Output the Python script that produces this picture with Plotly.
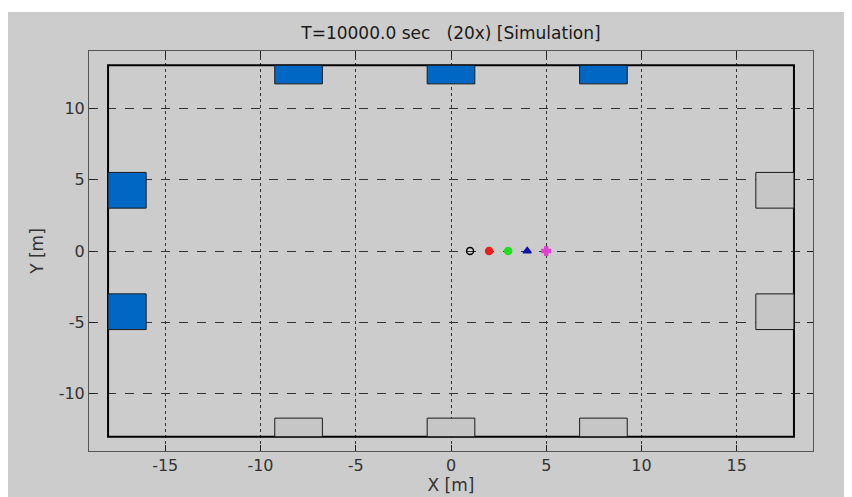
import plotly.graph_objects as go

# --- data ---
title_text = "T=10000.0 sec   (20x) [Simulation]"
x_ticks = [-15, -10, -5, 0, 5, 10, 15]
x_tick_labels = ["-15", "-10", "-5", "0", "5", "10", "15"]
y_ticks = [-10, -5, 0, 5, 10]
y_tick_labels = ["-10", "-5", "0", "5", "10"]
x_range = [-19, 19]
y_range = [-14, 14]

room_x = [-18, 18]
room_y = [-13, 13]

# blue boxes (x0, x1, y0, y1)
blue_x0 = [-9.25, -1.25, 6.75, -18, -18]
blue_x1 = [-6.75, 1.25, 9.25, -16, -16]
blue_y0 = [11.7, 11.7, 11.7, 3.0, -5.5]
blue_y1 = [13, 13, 13, 5.5, -3.0]

# gray boxes
gray_x0 = [-9.25, -1.25, 6.75, 16, 16]
gray_x1 = [-6.75, 1.25, 9.25, 18, 18]
gray_y0 = [-13, -13, -13, 3.0, -5.5]
gray_y1 = [-11.7, -11.7, -11.7, 5.5, -3.0]

robot_x = [1, 2, 3, 4, 5]
robot_y = [0, 0, 0, 0, 0]
robot_colors = ["#000000", "#e8201c", "#20e020", "#1010b0", "#e040d0"]
robot_symbols = ["circle-open", "circle", "circle", "triangle-up", "cross"]

BLUE = "#0068c4"
GRAY = "#c6c6c6"
FIG_BG = "#cccccc"
FONT = "DejaVu Sans, Arial, sans-serif"

# figure geometry (page has an 8px body margin)
W, H = 844, 489
ML, MR, MT, MB = 81, 39, 43, 46
PW, PH = W - ML - MR, H - MT - MB

fig = go.Figure()

# gray boxes as filled traces (drawn through the axes)
for x0, x1, y0, y1 in zip(gray_x0, gray_x1, gray_y0, gray_y1):
    fig.add_trace(go.Scatter(
        x=[x0, x1, x1, x0, x0], y=[y0, y0, y1, y1, y0], mode="lines",
        fill="toself", fillcolor=GRAY, line=dict(color="#1a1a1a", width=1),
        showlegend=False, hoverinfo="skip"))
for x0, x1, y0, y1 in zip(blue_x0, blue_x1, blue_y0, blue_y1):
    fig.add_trace(go.Scatter(
        x=[x0, x1, x1, x0, x0], y=[y0, y0, y1, y1, y0], mode="lines",
        fill="toself", fillcolor=BLUE, line=dict(color="#1a1a1a", width=1),
        showlegend=False, hoverinfo="skip"))

fig.add_trace(go.Scatter(
    x=robot_x, y=robot_y, mode="markers",
    marker=dict(color=robot_colors, symbol=robot_symbols, size=7,
                line=dict(color=robot_colors, width=1.5)),
    showlegend=False, hoverinfo="skip"))

shapes = []
# figure gray background (screenshot frame)
shapes.append(dict(type="rect", xref="paper", yref="paper",
                   x0=(0 - ML) / PW, x1=(W - ML) / PW,
                   y0=-MB / PH, y1=(PH + MT - 4) / PH,
                   fillcolor=FIG_BG, line=dict(width=0), layer="below"))
# room boundary
shapes.append(dict(type="rect", xref="x", yref="y",
                   x0=room_x[0], x1=room_x[1], y0=room_y[0], y1=room_y[1],
                   line=dict(color="#000000", width=2), fillcolor="rgba(0,0,0,0)",
                   layer="between"))

axis_common = dict(
    showline=True, linecolor="#555555", linewidth=1, mirror="ticks",
    ticks="inside", ticklen=6, tickcolor="#222222", tickwidth=1,
    showgrid=True, gridcolor="#333333", gridwidth=1,
    zeroline=False, automargin=False,
    tickfont=dict(family=FONT, size=16, color="#333333"),
)

fig.update_layout(
    width=W, height=H,
    margin=dict(l=ML, r=MR, t=MT, b=MB, autoexpand=False),
    paper_bgcolor="#ffffff",
    plot_bgcolor="#ffffff",
    shapes=shapes,
    title=dict(text=title_text, x=443 / W, xanchor="center",
               y=1 - 25 / H, yanchor="middle", yref="container",
               font=dict(family=FONT, size=17, color="#1a1a1a")),
    xaxis=dict(range=x_range, tickvals=x_ticks, ticktext=x_tick_labels, griddash="dot",
               title=dict(text="X [m]", standoff=2,
                          font=dict(family=FONT, size=17, color="#333333")),
               **axis_common),
    yaxis=dict(range=y_range, tickvals=y_ticks, ticktext=y_tick_labels, griddash="dash",
               title=dict(text="Y [m]", standoff=10,
                          font=dict(family=FONT, size=17, color="#333333")),
               **axis_common),
)

fig.write_html("out.html")
